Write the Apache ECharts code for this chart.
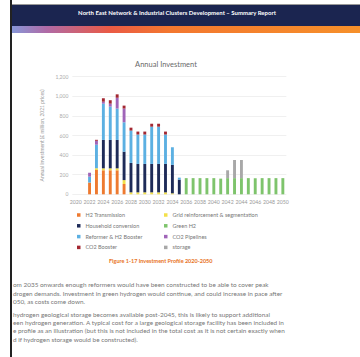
<!DOCTYPE html>
<html><head><meta charset="utf-8">
<script src="https://cdn.jsdelivr.net/npm/echarts@6/dist/echarts.min.js"></script>
<style>
html,body{margin:0;padding:0;background:#fff;width:360px;height:357px;overflow:hidden;font-family:Lato,"Open Sans",sans-serif;}
#topline{position:absolute;left:12px;top:4px;width:348px;height:1px;background:#999;}
#hdr{position:absolute;left:12px;top:5px;width:348px;height:21px;background:#1b2550;}
#hdrtxt{position:absolute;left:0;top:5px;width:330px;text-align:center;color:#fff;font-size:6px;font-weight:bold;line-height:6px;}
#grad{position:absolute;left:12px;top:26px;width:348px;height:7px;background:linear-gradient(to right,#8797d8 0%,#b06aa6 10%,#ea5a45 28%,#f3772f 45%,#f6902a 100%);}
#border{position:absolute;left:10px;top:0;width:2px;height:357px;background:#222;}
#chart{position:absolute;left:0;top:0;width:360px;height:357px;}
.ln{position:absolute;left:13px;white-space:nowrap;font-size:6.4px;color:#777;line-height:7px;}
</style></head>
<body>
<div id="topline"></div>
<div id="hdr"><div id="hdrtxt">North East Network &amp; Industrial Clusters Development – Summary Report</div></div>
<div id="grad"></div>
<div id="chart"></div>
<div class="ln" style="top:281px">om 2035 onwards enough reformers would have been constructed to be able to cover peak</div>
<div class="ln" style="top:289.5px">drogen demands. Investment in green hydrogen would continue, and could increase in pace after</div>
<div class="ln" style="top:298px">050, as costs come down.</div>
<div class="ln" style="top:310.5px">hydrogen geological storage becomes available post-2045, this is likely to support additional</div>
<div class="ln" style="top:319px">een hydrogen generation. A typical cost for a large geological storage facility has been included in</div>
<div class="ln" style="top:327px">e profile as an illustration (but this is not included in the total cost as it is not certain exactly when</div>
<div class="ln" style="top:335.5px">d if hydrogen storage would be constructed).</div>
<div id="border"></div>
<script>
const years = ["2020","2021","2022","2023","2024","2025","2026","2027","2028","2029","2030","2031","2032","2033","2034","2035","2036","2037","2038","2039","2040","2041","2042","2043","2044","2045","2046","2047","2048","2049","2050"];
const h2Transmission = [0,0,120,248,245,245,245,105,0,0,0,0,0,0,0,0,0,0,0,0,0,0,0,0,0,0,0,0,0,0,0];
const gridReinforcement = [0,0,0,18,20,20,20,40,20,20,20,20,20,20,10,0,0,0,0,0,0,0,0,0,0,0,0,0,0,0,0];
const householdConversion = [0,0,0,0,290,290,290,290,300,290,290,290,290,290,290,150,0,0,0,0,0,0,0,0,0,0,0,0,0,0,0];
const greenH2 = [0,0,0,0,0,0,0,0,0,0,0,0,0,0,0,0,165,165,165,165,165,160,165,165,165,165,165,165,165,165,165];
const reformerBooster = [0,0,60,240,370,340,320,300,330,300,300,380,380,300,180,20,0,0,0,0,0,0,0,0,0,0,0,0,0,0,0];
const co2Pipelines = [0,0,40,40,20,30,110,140,0,0,0,0,0,0,0,0,0,0,0,0,0,0,0,0,0,0,0,0,0,0,0];
const co2Booster = [0,0,0,10,35,35,35,30,30,30,30,30,30,30,0,0,0,0,0,0,0,0,0,0,0,0,0,0,0,0,0];
const storage = [0,0,0,0,0,0,0,0,0,0,0,0,0,0,0,0,0,0,0,0,0,0,80,185,185,0,0,0,0,0,0];
const yTicks = [0,200,400,600,800,1000,1200];

const seriesDefs = [
  {name:"H2 Transmission", data:h2Transmission, color:"#ee7a30"},
  {name:"Grid reinforcement & segmentation", data:gridReinforcement, color:"#f3e04a"},
  {name:"Household conversion", data:householdConversion, color:"#1e2b58"},
  {name:"Green H2", data:greenH2, color:"#7ec46c"},
  {name:"Reformer & H2 Booster", data:reformerBooster, color:"#5cb0e2"},
  {name:"CO2 Pipelines", data:co2Pipelines, color:"#a065b8"},
  {name:"CO2 Booster", data:co2Booster, color:"#a32731"},
  {name:"storage", data:storage, color:"#a8a8a8"}
];

const chart = echarts.init(document.getElementById('chart'), null, {renderer:'svg'});
const legendText = {fontSize:5.5, color:'#777', fontFamily:'Lato', lineHeight:6};
chart.setOption({
  animation:false,
  backgroundColor:'transparent',
  textStyle:{fontFamily:'Lato'},
  title:{text:'Annual Investment', left:166, top:60.5, textAlign:'center', padding:0,
    textStyle:{fontSize:7.5, fontWeight:'normal', color:'#6a6a6a'}},
  grid:{left:72.3, top:76.7, width:214, height:117.6, containLabel:false},
  legend:[
    {orient:'vertical', left:77, top:212, padding:0, itemWidth:3.5, itemHeight:3.5, itemGap:4.8, icon:'rect',
     textStyle:legendText, data:["H2 Transmission","Household conversion","Reformer & H2 Booster","CO2 Booster"]},
    {orient:'vertical', left:164, top:212, padding:0, itemWidth:3.5, itemHeight:3.5, itemGap:4.8, icon:'rect',
     textStyle:legendText, data:["Grid reinforcement & segmentation","Green H2","CO2 Pipelines","storage"]}
  ],
  xAxis:{type:'category', data:years, axisTick:{show:false}, axisLine:{show:false},
    axisLabel:{interval:1, fontSize:5.2, color:'#999', margin:5}},
  yAxis:{type:'value', min:0, max:1200, interval:200,
    name:'Annual Investment (£ million, 2021 prices)', nameLocation:'middle', nameGap:20,
    nameTextStyle:{fontSize:5, color:'#999'},
    axisLabel:{fontSize:5, color:'#aaa', margin:4},
    splitLine:{lineStyle:{color:'#ececec', width:0.8}}},
  graphic:[{type:'text', left:109, top:258,
    style:{text:'Figure 1-17 Investment Profile 2020-2050', fontSize:5.5, fontWeight:'bold', fill:'#e8731e', fontFamily:'Lato'}}],
  series: seriesDefs.map(s => ({name:s.name, type:'bar', stack:'total', data:s.data, barWidth:2.9,
    itemStyle:{color:s.color}}))
});
</script>
</body></html>
